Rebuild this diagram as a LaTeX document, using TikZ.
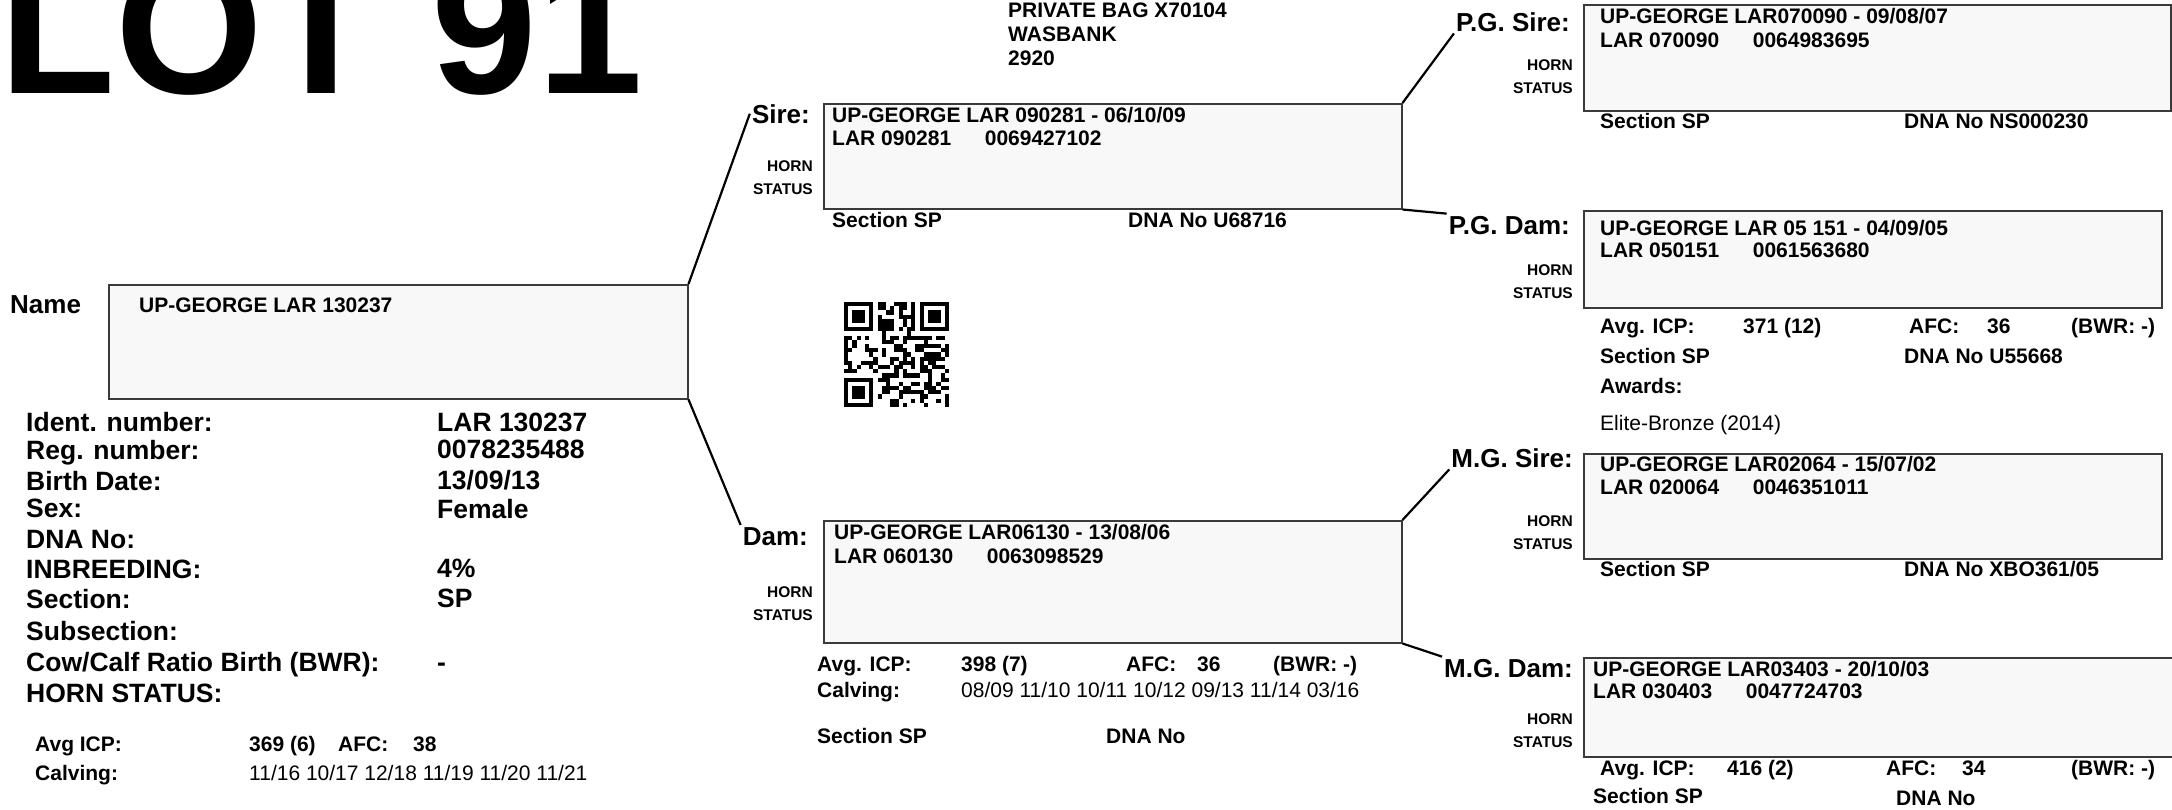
\documentclass[tikz,border=0pt]{standalone}
\usepackage{fontspec}
\setmainfont{Liberation Sans}
\definecolor{boxfill}{HTML}{F8F8F8}
\definecolor{boxline}{HTML}{3A3A3A}
\tikzset{
  pedbox/.style={draw=boxline, fill=boxfill, line width=1.5pt, inner sep=0, anchor=north west},
  boxtxt/.style={font=\fontsize{21}{24}\selectfont\bfseries, anchor=base west, inner sep=0},
  plaintxt/.style={font=\fontsize{21}{24}\selectfont, anchor=base west, inner sep=0},
  infotxt/.style={font=\fontsize{26.5}{30}\selectfont\bfseries, anchor=base west, inner sep=0},
  rolelbl/.style={font=\fontsize{26}{30}\selectfont\bfseries, anchor=base east, inner sep=2pt},
  hornlbl/.style={font=\fontsize{15.5}{18}\selectfont\bfseries, anchor=base east, inner sep=0},
  link/.style={line width=2.2pt},
}
\begin{document}
\begin{tikzpicture}[x=1pt,y=-1pt]
    \useasboundingbox (0,0) rectangle (2172,809);
    \node[font=\fontsize{190}{190}\selectfont\bfseries, anchor=base west, inner sep=0] (lot) at (-1,93) {LOT 91};
    \node[boxtxt] (addr1) at (1008,17) {PRIVATE BAG X70104};
    \node[boxtxt] (addr2) at (1008,41) {WASBANK};
    \node[boxtxt] (addr3) at (1008,65) {2920};

    % animal
    \node[font=\fontsize{26}{30}\selectfont\bfseries, anchor=base west, inner sep=0] (namelbl) at (10,313) {Name};
    \node[pedbox, minimum width=579pt, minimum height=114pt] (namebox) at (108,284) {};
    \node[boxtxt] (nametxt) at (139,312) {UP-GEORGE LAR 130237};
    \node[infotxt] (identlbl) at (26,431) {Ident. number:};
    \node[infotxt] (reglbl) at (26,459) {Reg. number:};
    \node[infotxt] (birthlbl) at (26,490) {Birth Date:};
    \node[infotxt] (sexlbl) at (26,517) {Sex:};
    \node[infotxt] (dnalbl) at (26,548) {DNA No:};
    \node[infotxt] (inbrlbl) at (26,578) {INBREEDING:};
    \node[infotxt] (seclbl) at (26,608) {Section:};
    \node[infotxt] (subseclbl) at (26,640) {Subsection:};
    \node[infotxt] (bwrlbl) at (26,671) {Cow/Calf Ratio Birth (BWR):};
    \node[infotxt] (hornlbl) at (26,702) {HORN STATUS:};
    \node[infotxt] (identval) at (437,431) {LAR 130237};
    \node[infotxt] (regval) at (437,458) {0078235488};
    \node[infotxt] (birthval) at (437,489) {13/09/13};
    \node[infotxt] (sexval) at (437,518) {Female};
    \node[infotxt] (inbrval) at (437,577) {4\%};
    \node[infotxt] (secval) at (437,607) {SP};
    \node[infotxt] (bwrval) at (437,671) {-};
    \node[boxtxt] (icplbl) at (35,751) {Avg ICP:};
    \node[boxtxt] (icpval) at (249,751) {369 (6)};
    \node[boxtxt] (afclbl) at (338,751) {AFC:};
    \node[boxtxt] (afcval) at (413,751) {38};
    \node[boxtxt] (calvlbl) at (35,780) {Calving:};
    \node[plaintxt] (calvval) at (249,780) {11/16 10/17 12/18 11/19 11/20 11/21};

    % sire
    \node[rolelbl] (sirelbl) at (812,123) {Sire:};
    \node[pedbox, minimum width=578pt, minimum height=105pt] (sirebox) at (823,103) {};
    \node[boxtxt] (sire1) at (832,122) {UP-GEORGE LAR 090281 - 06/10/09};
    \node[boxtxt] (sire2) at (832,145) {LAR 090281\hspace{1.6em}0069427102};
    \node[boxtxt] (siresec) at (832,227) {Section SP};
    \node[boxtxt] (siredna) at (1128,227) {DNA No U68716};

    % dam
    \node[rolelbl] (damlbl) at (810,545) {Dam:};
    \node[pedbox, minimum width=578pt, minimum height=122pt] (dambox) at (823,520) {};
    \node[boxtxt] (dam1) at (834,539) {UP-GEORGE LAR06130 - 13/08/06};
    \node[boxtxt] (dam2) at (834,563) {LAR 060130\hspace{1.6em}0063098529};
    \node[boxtxt] (damicp) at (817,671) {Avg. ICP:};
    \node[boxtxt] (damicpval) at (961,671) {398 (7)};
    \node[boxtxt] (damafc) at (1126,671) {AFC:};
    \node[boxtxt] (damafcval) at (1197,671) {36};
    \node[boxtxt] (dambwr) at (1273,671) {(BWR: -)};
    \node[boxtxt] (damcalv) at (817,697) {Calving:};
    \node[plaintxt] (damcalvval) at (961,697) {08/09 11/10 10/11 10/12 09/13 11/14 03/16};
    \node[boxtxt] (damsec) at (817,743) {Section SP};
    \node[boxtxt] (damdna) at (1106,743) {DNA No};

    % P.G. sire
    \node[rolelbl] (pgsirelbl) at (1572,31) {P.G. Sire:};
    \node[pedbox, minimum width=587pt, minimum height=106pt] (pgsirebox) at (1583,4) {};
    \node[boxtxt] (pgsire1) at (1600,23) {UP-GEORGE LAR070090 - 09/08/07};
    \node[boxtxt] (pgsire2) at (1600,47) {LAR 070090\hspace{1.6em}0064983695};
    \node[boxtxt] (pgsiresec) at (1600,128) {Section SP};
    \node[boxtxt] (pgsiredna) at (1904,128) {DNA No NS000230};

    % P.G. dam
    \node[rolelbl] (pgdamlbl) at (1572,234) {P.G. Dam:};
    \node[pedbox, minimum width=578pt, minimum height=97pt] (pgdambox) at (1583,210) {};
    \node[boxtxt] (pgdam1) at (1600,235) {UP-GEORGE LAR 05 151 - 04/09/05};
    \node[boxtxt] (pgdam2) at (1600,257) {LAR 050151\hspace{1.6em}0061563680};
    \node[boxtxt] (pgdamicp) at (1600,333) {Avg. ICP:};
    \node[boxtxt] (pgdamicpval) at (1743,333) {371 (12)};
    \node[boxtxt] (pgdamafc) at (1909,333) {AFC:};
    \node[boxtxt] (pgdamafcval) at (1987,333) {36};
    \node[boxtxt] (pgdambwr) at (2071,333) {(BWR: -)};
    \node[boxtxt] (pgdamsec) at (1600,363) {Section SP};
    \node[boxtxt] (pgdamdna) at (1904,363) {DNA No U55668};
    \node[boxtxt] (pgdamaw) at (1600,393) {Awards:};
    \node[plaintxt] (pgdamawval) at (1600,430) {Elite-Bronze (2014)};

    % M.G. sire
    \node[rolelbl] (mgsirelbl) at (1575,467) {M.G. Sire:};
    \node[pedbox, minimum width=578pt, minimum height=105pt] (mgsirebox) at (1583,453) {};
    \node[boxtxt] (mgsire1) at (1600,471) {UP-GEORGE LAR02064 - 15/07/02};
    \node[boxtxt] (mgsire2) at (1600,494) {LAR 020064\hspace{1.6em}0046351011};
    \node[boxtxt] (mgsiresec) at (1600,576) {Section SP};
    \node[boxtxt] (mgsiredna) at (1904,576) {DNA No XBO361/05};

    % M.G. dam
    \node[rolelbl] (mgdamlbl) at (1575,677) {M.G. Dam:};
    \node[pedbox, minimum width=610pt, minimum height=99pt] (mgdambox) at (1583,657) {};
    \node[boxtxt] (mgdam1) at (1593,676) {UP-GEORGE LAR03403 - 20/10/03};
    \node[boxtxt] (mgdam2) at (1593,698) {LAR 030403\hspace{1.6em}0047724703};
    \node[boxtxt] (mgdamicp) at (1600,775) {Avg. ICP:};
    \node[boxtxt] (mgdamicpval) at (1727,775) {416 (2)};
    \node[boxtxt] (mgdamafc) at (1886,775) {AFC:};
    \node[boxtxt] (mgdamafcval) at (1962,775) {34};
    \node[boxtxt] (mgdambwr) at (2071,775) {(BWR: -)};
    \node[boxtxt] (mgdamsec) at (1593,803) {Section SP};
    \node[boxtxt] (mgdamdna) at (1896,805) {DNA No};

    \foreach \hx/\hy [count=\k] in {813/171,813/597,1573/70,1573/275,1573/526,1573/724}{
        \node[hornlbl] (horn\k) at (\hx,\hy) {HORN};
        \node[hornlbl] (status\k) at (\hx,\hy+23) {STATUS};
    }

    \draw[link] (namebox.north east) -- (sirelbl.west);
    \draw[link] (namebox.south east) -- (damlbl.north west);
    \draw[link] (sirebox.north east) -- (pgsirelbl.south west);
    \draw[link] (sirebox.south east) -- (pgdamlbl.north west);
    \draw[link] (dambox.north east) -- (mgsirelbl.south west);
    \draw[link] (dambox.south east) -- (mgdamlbl.north west);

    % qr code
    \pgfmathsetseed{4242}
    \foreach \i in {0,...,24}{
        \foreach \j in {0,...,24}{
            \pgfmathtruncatemacro\on{and(rnd<0.5, not(or(or(and(\i<8,\j<8),and(\i>16,\j<8)),and(\i<8,\j>16))))}
            \ifnum\on=1 \fill ({844+\i*4.2},{302+\j*4.2}) rectangle ++(4.2,4.2);\fi
        }
    }
    \foreach \fx/\fy in {0/0,18/0,0/18}{
        \fill ({844+\fx*4.2},{302+\fy*4.2}) rectangle ++(29.4,29.4);
        \fill[white] ({848.2+\fx*4.2},{306.2+\fy*4.2}) rectangle ++(21,21);
        \fill ({852.4+\fx*4.2},{310.4+\fy*4.2}) rectangle ++(12.6,12.6);
    }
\end{tikzpicture}
\end{document}
